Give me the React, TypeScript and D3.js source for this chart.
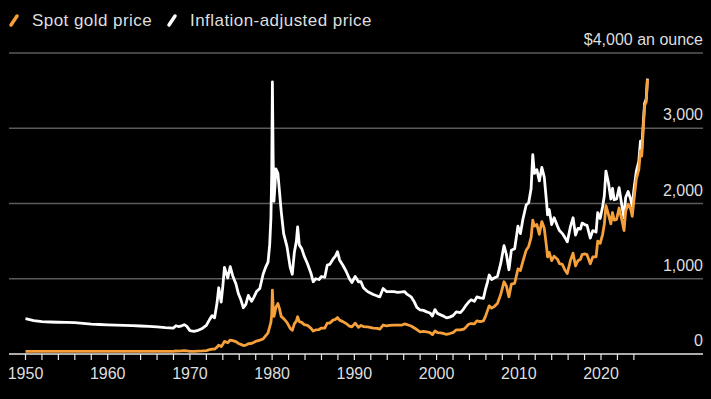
import { useEffect, useRef } from 'react';
import * as d3 from 'd3';

// decimal year of each observation
const dates = [
    1950, 1951, 1952, 1953, 1954, 1955, 1956, 1957, 1958, 1959,
    1960, 1961, 1962, 1963, 1964, 1965, 1966, 1967, 1968, 1968.3,
    1968.6, 1969, 1969.3, 1969.6, 1970, 1970.5, 1971, 1971.5, 1972, 1972.4,
    1972.7, 1973, 1973.3, 1973.5, 1973.8, 1974, 1974.2, 1974.6, 1974.9, 1975.2,
    1975.6, 1975.9, 1976.2, 1976.5, 1976.8, 1977.1, 1977.5, 1977.8, 1978.1, 1978.5,
    1978.9, 1979.2, 1979.5, 1979.7, 1979.85, 1979.95, 1980.03, 1980.12, 1980.22, 1980.35,
    1980.45, 1980.7, 1980.9, 1981.1, 1981.4, 1981.8, 1982.2, 1982.45, 1982.7, 1982.95,
    1983.1, 1983.3, 1983.6, 1983.9, 1984.3, 1984.7, 1985, 1985.3, 1985.7, 1986,
    1986.4, 1986.7, 1987, 1987.4, 1987.7, 1987.95, 1988.2, 1988.6, 1989, 1989.4,
    1989.7, 1990.1, 1990.5, 1990.8, 1991.1, 1991.6, 1992.3, 1992.8, 1993.1, 1993.5,
    1993.9, 1994.3, 1994.8, 1995.3, 1995.8, 1996.1, 1996.4, 1996.9, 1997.3, 1997.6,
    1998, 1998.4, 1998.8, 1999.2, 1999.5, 1999.8, 2000.1, 2000.5, 2000.9, 2001.2,
    2001.6, 2002, 2002.4, 2002.9, 2003.3, 2003.6, 2003.9, 2004.2, 2004.6, 2004.9,
    2005.3, 2005.7, 2005.95, 2006.2, 2006.4, 2006.7, 2007, 2007.4, 2007.8, 2008.2,
    2008.5, 2008.8, 2009.1, 2009.5, 2009.9, 2010.2, 2010.5, 2010.9, 2011.2, 2011.5,
    2011.7, 2011.9, 2012.2, 2012.5, 2012.8, 2013.1, 2013.4, 2013.5, 2013.7, 2014,
    2014.3, 2014.7, 2014.95, 2015.3, 2015.6, 2015.9, 2016.3, 2016.6, 2016.9, 2017.2,
    2017.5, 2017.7, 2018, 2018.3, 2018.7, 2019, 2019.4, 2019.6, 2019.9, 2020.2,
    2020.4, 2020.6, 2020.9, 2021.2, 2021.4, 2021.6, 2021.9, 2022.2, 2022.5, 2022.8,
    2023, 2023.3, 2023.6, 2023.8, 2024, 2024.3, 2024.6, 2024.8, 2024.95, 2025.1,
    2025.3, 2025.5, 2025.65,
];

// spot gold, $ an ounce
const spotPrice = [
    35, 35, 35, 35, 35, 35, 35, 35, 35, 35,
    35, 35, 35, 35, 35, 35, 35, 35, 36, 40,
    39, 42, 43, 41, 35, 36, 38, 41, 46, 58,
    66, 65, 90, 118, 98, 130, 168, 150, 185, 178,
    165, 140, 128, 112, 118, 136, 140, 155, 172, 185,
    200, 240, 280, 360, 420, 520, 850, 620, 500, 560,
    620, 670, 600, 500, 470, 420, 340, 315, 400, 440,
    495, 430, 420, 390, 380, 345, 305, 320, 325, 345,
    345, 410, 410, 450, 460, 485, 450, 430, 405, 370,
    360, 410, 355, 380, 365, 360, 345, 340, 330, 385,
    375, 380, 385, 385, 385, 400, 390, 372, 345, 325,
    295, 300, 295, 285, 258, 305, 285, 282, 270, 262,
    272, 285, 320, 320, 330, 360, 395, 405, 400, 440,
    430, 440, 500, 580, 640, 610, 630, 670, 790, 960,
    900, 760, 930, 940, 1130, 1110, 1230, 1380, 1430, 1550,
    1780, 1700, 1720, 1590, 1760, 1670, 1400, 1290, 1350, 1240,
    1300, 1260, 1200, 1190, 1120, 1070, 1250, 1340, 1170, 1240,
    1260, 1320, 1330, 1320, 1200, 1290, 1290, 1500, 1470, 1590,
    1720, 1970, 1860, 1730, 1880, 1780, 1790, 1940, 1800, 1640,
    1900, 1990, 1930, 1830, 2040, 2330, 2450, 2700, 2630, 2900,
    3300, 3350, 3650,
];

// inflation-adjusted, $ an ounce
const realPrice = [
    470, 445, 430, 425, 422, 420, 418, 408, 398, 392,
    388, 384, 380, 376, 372, 368, 360, 350, 345, 375,
    365, 375, 390, 370, 310, 300, 315, 340, 380, 460,
    510, 480, 680, 880, 690, 900, 1150, 1010, 1160, 1040,
    930, 800, 720, 615, 660, 780, 700, 760, 830, 870,
    1060, 1150, 1220, 1450, 1800, 2400, 3615, 2620, 2030, 2240,
    2460, 2400, 2150, 1900, 1600, 1430, 1150, 1060, 1350, 1500,
    1690, 1450, 1400, 1300, 1200, 1080, 960, 1000, 990, 1030,
    1020, 1180, 1190, 1260, 1300, 1360, 1250, 1180, 1100, 1000,
    950, 1030, 960, 960, 880, 830, 790, 770, 760, 870,
    830, 830, 830, 820, 825, 830, 795, 760, 690, 620,
    585, 580, 560, 545, 505, 590, 540, 520, 500, 480,
    490, 510, 560, 550, 600, 650, 690, 720, 700, 760,
    745, 740, 860, 960, 1050, 990, 1010, 1030, 1200, 1440,
    1320, 1120, 1380, 1400, 1700, 1600, 1790, 1980, 2010, 2200,
    2650, 2400, 2450, 2300, 2480, 2350, 1990, 1850, 1920, 1720,
    1810, 1700, 1640, 1600, 1550, 1490, 1700, 1810, 1580, 1670,
    1660, 1740, 1720, 1710, 1540, 1640, 1620, 1880, 1800, 1960,
    2100, 2430, 2280, 2060, 2200, 2050, 2060, 2210, 2000, 1810,
    2080, 2160, 2060, 1960, 2180, 2430, 2560, 2830, 2720, 2990,
    3330, 3390, 3660,
];

const yTicks = [0, 1000, 2000, 3000, 4000];
const yTickLabels = ['0', '1,000', '2,000', '3,000', '$4,000 an ounce'];
const xLabelYears = [1950, 1960, 1970, 1980, 1990, 2000, 2010, 2020];
const xMinorYears = d3.range(1950, 2025, 2);

const legendItems = [
    { label: 'Spot gold price', color: '#f5a03a' },
    { label: 'Inflation-adjusted price', color: '#ffffff' },
];

const GoldChart = () => {
    const svgRef = useRef(null);
    const width = 711;
    const height = 399;
    const font = '"Liberation Sans", Arial, sans-serif';
    const textColor = '#dedede';

    useEffect(() => {
        const svg = d3.select(svgRef.current);
        svg.selectAll('*').remove();

        const xScale = d3.scaleLinear()
            .domain([1950, 2020])
            .range([25.5, 601]);
        const yScale = d3.scaleLinear()
            .domain([0, 4000])
            .range([354, 53]);
        const left = 9;
        const right = 703;

        // gridlines + right-hand labels
        const grid = svg.append('g');
        grid.selectAll('line')
            .data(yTicks.filter(t => t > 0))
            .join('line')
            .attr('x1', left)
            .attr('x2', right)
            .attr('y1', d => yScale(d))
            .attr('y2', d => yScale(d))
            .attr('stroke', '#5a5a5a')
            .attr('stroke-width', 1.3);
        grid.selectAll('text')
            .data(yTicks)
            .join('text')
            .attr('x', right)
            .attr('y', d => yScale(d) - 8)
            .attr('text-anchor', 'end')
            .attr('font-family', font)
            .attr('font-size', 16)
            .attr('fill', textColor)
            .text((d, i) => yTickLabels[i]);

        const rows = dates.map((d, i) => ({ date: d, spot: spotPrice[i], real: realPrice[i] }));

        const realLine = d3.line()
            .x(d => xScale(d.date))
            .y(d => yScale(d.real));
        const spotLine = d3.line()
            .x(d => xScale(d.date))
            .y(d => yScale(d.spot));

        svg.append('path')
            .datum(rows)
            .attr('d', realLine)
            .attr('fill', 'none')
            .attr('stroke', legendItems[1].color)
            .attr('stroke-width', 2.8)
            .attr('stroke-linejoin', 'round');
        svg.append('path')
            .datum(rows)
            .attr('d', spotLine)
            .attr('fill', 'none')
            .attr('stroke', legendItems[0].color)
            .attr('stroke-width', 2.8)
            .attr('stroke-linejoin', 'round');

        // x axis
        const axis = svg.append('g');
        axis.append('line')
            .attr('x1', left)
            .attr('x2', right)
            .attr('y1', yScale(0))
            .attr('y2', yScale(0))
            .attr('stroke', '#e6e6e6')
            .attr('stroke-width', 1.5);
        axis.selectAll('.tick')
            .data(xMinorYears)
            .join('line')
            .attr('class', 'tick')
            .attr('x1', d => xScale(d))
            .attr('x2', d => xScale(d))
            .attr('y1', yScale(0))
            .attr('y2', yScale(0) + 6)
            .attr('stroke', '#e6e6e6')
            .attr('stroke-width', 1.2);
        axis.selectAll('.year')
            .data(xLabelYears)
            .join('text')
            .attr('class', 'year')
            .attr('x', d => xScale(d))
            .attr('y', 379)
            .attr('text-anchor', 'middle')
            .attr('font-family', font)
            .attr('font-size', 16)
            .attr('fill', textColor)
            .text(d => d);

        // legend
        const legendX = [10, 168];
        const legend = svg.append('g');
        legendItems.forEach((item, i) => {
            const x0 = legendX[i];
            legend.append('line')
                .attr('x1', x0 + 1)
                .attr('y1', 25)
                .attr('x2', x0 + 7)
                .attr('y2', 16)
                .attr('stroke', item.color)
                .attr('stroke-width', 3.5)
                .attr('stroke-linecap', 'round');
            legend.append('text')
                .attr('x', x0 + 22)
                .attr('y', 26)
                .attr('font-family', font)
                .attr('font-size', 17)
                .attr('letter-spacing', 0.45)
                .attr('fill', textColor)
                .text(item.label);
        });
    }, []);

    return (
        <div style={{ position: 'absolute', left: 0, top: 0 }}>
            <svg ref={svgRef} width={width} height={height} style={{ display: 'block', background: '#000' }}></svg>
        </div>
    );
};

export default function App() {
    return <GoldChart />;
}
